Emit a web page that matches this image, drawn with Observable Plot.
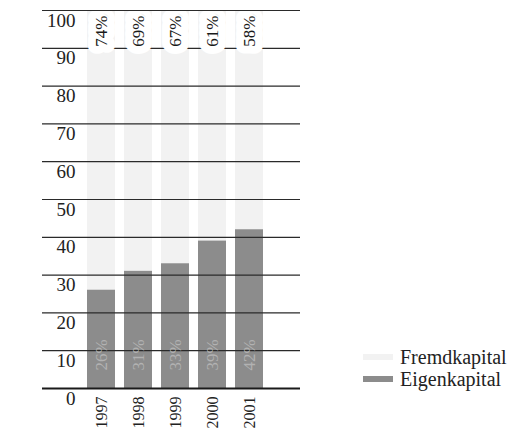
<!DOCTYPE html>
<html><head><meta charset="utf-8">
<script src="https://cdn.jsdelivr.net/npm/d3@7"></script>
<script src="https://cdn.jsdelivr.net/npm/@observablehq/plot@0.6"></script>
<style>
body{margin:0;background:#fff;}
#wrap{position:relative;width:510px;height:430px;font-family:"Liberation Serif",serif;}
#legend{position:absolute;left:363px;top:346px;font-size:20px;line-height:22px;color:#222;}
.row{display:flex;align-items:center;white-space:nowrap;}
.sw{display:inline-block;width:30px;height:6px;margin-right:7px;}
</style></head><body><div id="wrap"><div id="chart"></div><div id="legend"></div></div>
<script>
const years = ["1997", "1998", "1999", "2000", "2001"];
const eigenkapital = [26, 31, 33, 39, 42];
const fremdkapital = [74, 69, 67, 61, 58];
const yTicks = [0, 10, 20, 30, 40, 50, 60, 70, 80, 90, 100];
const seriesNames = ["Fremdkapital", "Eigenkapital"];
const seriesColors = ["#f2f2f2", "#8c8c8c"];

const rows = years.map((year, i) => ({year, eigen: eigenkapital[i], fremd: fremdkapital[i]}));

const plot = Plot.plot({
  width: 510,
  height: 430,
  marginTop: 10,
  marginBottom: 42,
  marginLeft: 42,
  marginRight: 210,
  x: {domain: years, range: [76, 274], padding: 0.23},
  y: {domain: [0, 100]},
  style: {fontFamily: "Liberation Serif, serif", fontSize: "16px", color: "#222", background: "#fff"},
  marks: [
    Plot.barY(rows, {x: "year", y1: "eigen", y2: d => d.eigen + d.fremd, fill: seriesColors[0]}),
    Plot.barY(rows, {x: "year", y: "eigen", fill: seriesColors[1]}),
    Plot.ruleY(yTicks.filter(d => d > 0), {stroke: "#2a2a2a", strokeWidth: 1.2}),
    Plot.ruleY([0], {stroke: "#1a1a1a", strokeWidth: 1.8}),
    Plot.text(rows, {x: "year", y: d => d.eigen + d.fremd, text: d => d.fremd + "%", rotate: -90, textAnchor: "end", dy: 5, fontSize: 17, fill: "#1a1a1a", stroke: "white", strokeWidth: 16}),
    Plot.ruleY([100], {stroke: "#2a2a2a", strokeWidth: 1.2}),
    Plot.text(rows, {x: "year", y: 0, text: d => d.eigen + "%", rotate: -90, textAnchor: "start", dy: -18, fontSize: 17, fill: "#b2b2b2"}),
    Plot.axisY({ticks: yTicks, tickSize: 0, tickPadding: 0, dx: 33, dy: 10, fontSize: 19, label: null}),
    Plot.axisX({tickSize: 0, tickRotate: -90, tickPadding: 8, fontSize: 16, label: null})
  ]
});
document.getElementById("chart").appendChild(plot);

const legend = document.getElementById("legend");
seriesNames.forEach((name, i) => {
  const row = document.createElement("div");
  row.className = "row";
  const sw = document.createElement("span");
  sw.className = "sw";
  sw.style.background = seriesColors[i];
  row.appendChild(sw);
  row.appendChild(document.createTextNode(name));
  legend.appendChild(row);
});
</script></body></html>
